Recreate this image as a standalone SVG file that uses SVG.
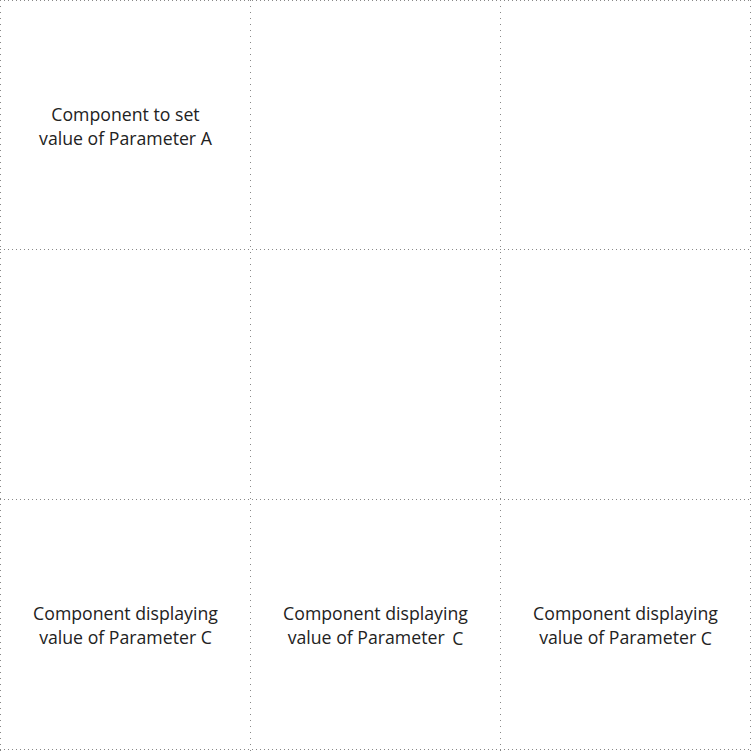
<svg xmlns="http://www.w3.org/2000/svg" width="751" height="751" viewBox="0 0 751 751">
<style>
.h{stroke:#888;stroke-width:1;stroke-dasharray:1 3;fill:none}
.v{stroke:#888;stroke-width:1;stroke-dasharray:1 5;fill:none}
.t{font-family:"Open Sans","Noto Sans",sans-serif;font-size:17.7px;font-weight:500;fill:#222;text-anchor:middle}
</style>
<rect width="751" height="751" fill="#fff"/>
<g id="connectors">
<line class="h" x1="0" y1="0.5" x2="751" y2="0.5"/>
<line class="h" x1="0" y1="249.5" x2="751" y2="249.5"/>
<line class="h" x1="0" y1="499.5" x2="751" y2="499.5"/>
<line class="h" x1="0" y1="749.5" x2="751" y2="749.5"/>
<line class="v" x1="0.5" y1="0" x2="0.5" y2="751"/>
<line class="v" x1="250.5" y1="0" x2="250.5" y2="751"/>
<line class="v" x1="500.5" y1="0" x2="500.5" y2="751"/>
<line class="v" x1="750.5" y1="0" x2="750.5" y2="751"/>
</g>
<g id="nodeA">
<text class="t" x="125.5" y="121">Component to set</text>
<text class="t" x="125.5" y="145">value of Parameter A</text>
</g>
<g id="nodeC1">
<text class="t" x="125.5" y="620">Component displaying</text>
<text class="t" x="125.5" y="644">value of Parameter C</text>
</g>
<g id="nodeC2">
<text class="t" x="375.5" y="620">Component displaying</text>
<text class="t" x="375.5" y="644">value of Parameter <tspan dx="3" dy="1">C</tspan></text>
</g>
<g id="nodeC3">
<text class="t" x="625.5" y="620">Component displaying</text>
<text class="t" x="625.5" y="644">value of Parameter <tspan dy="1">C</tspan></text>
</g>
</svg>
